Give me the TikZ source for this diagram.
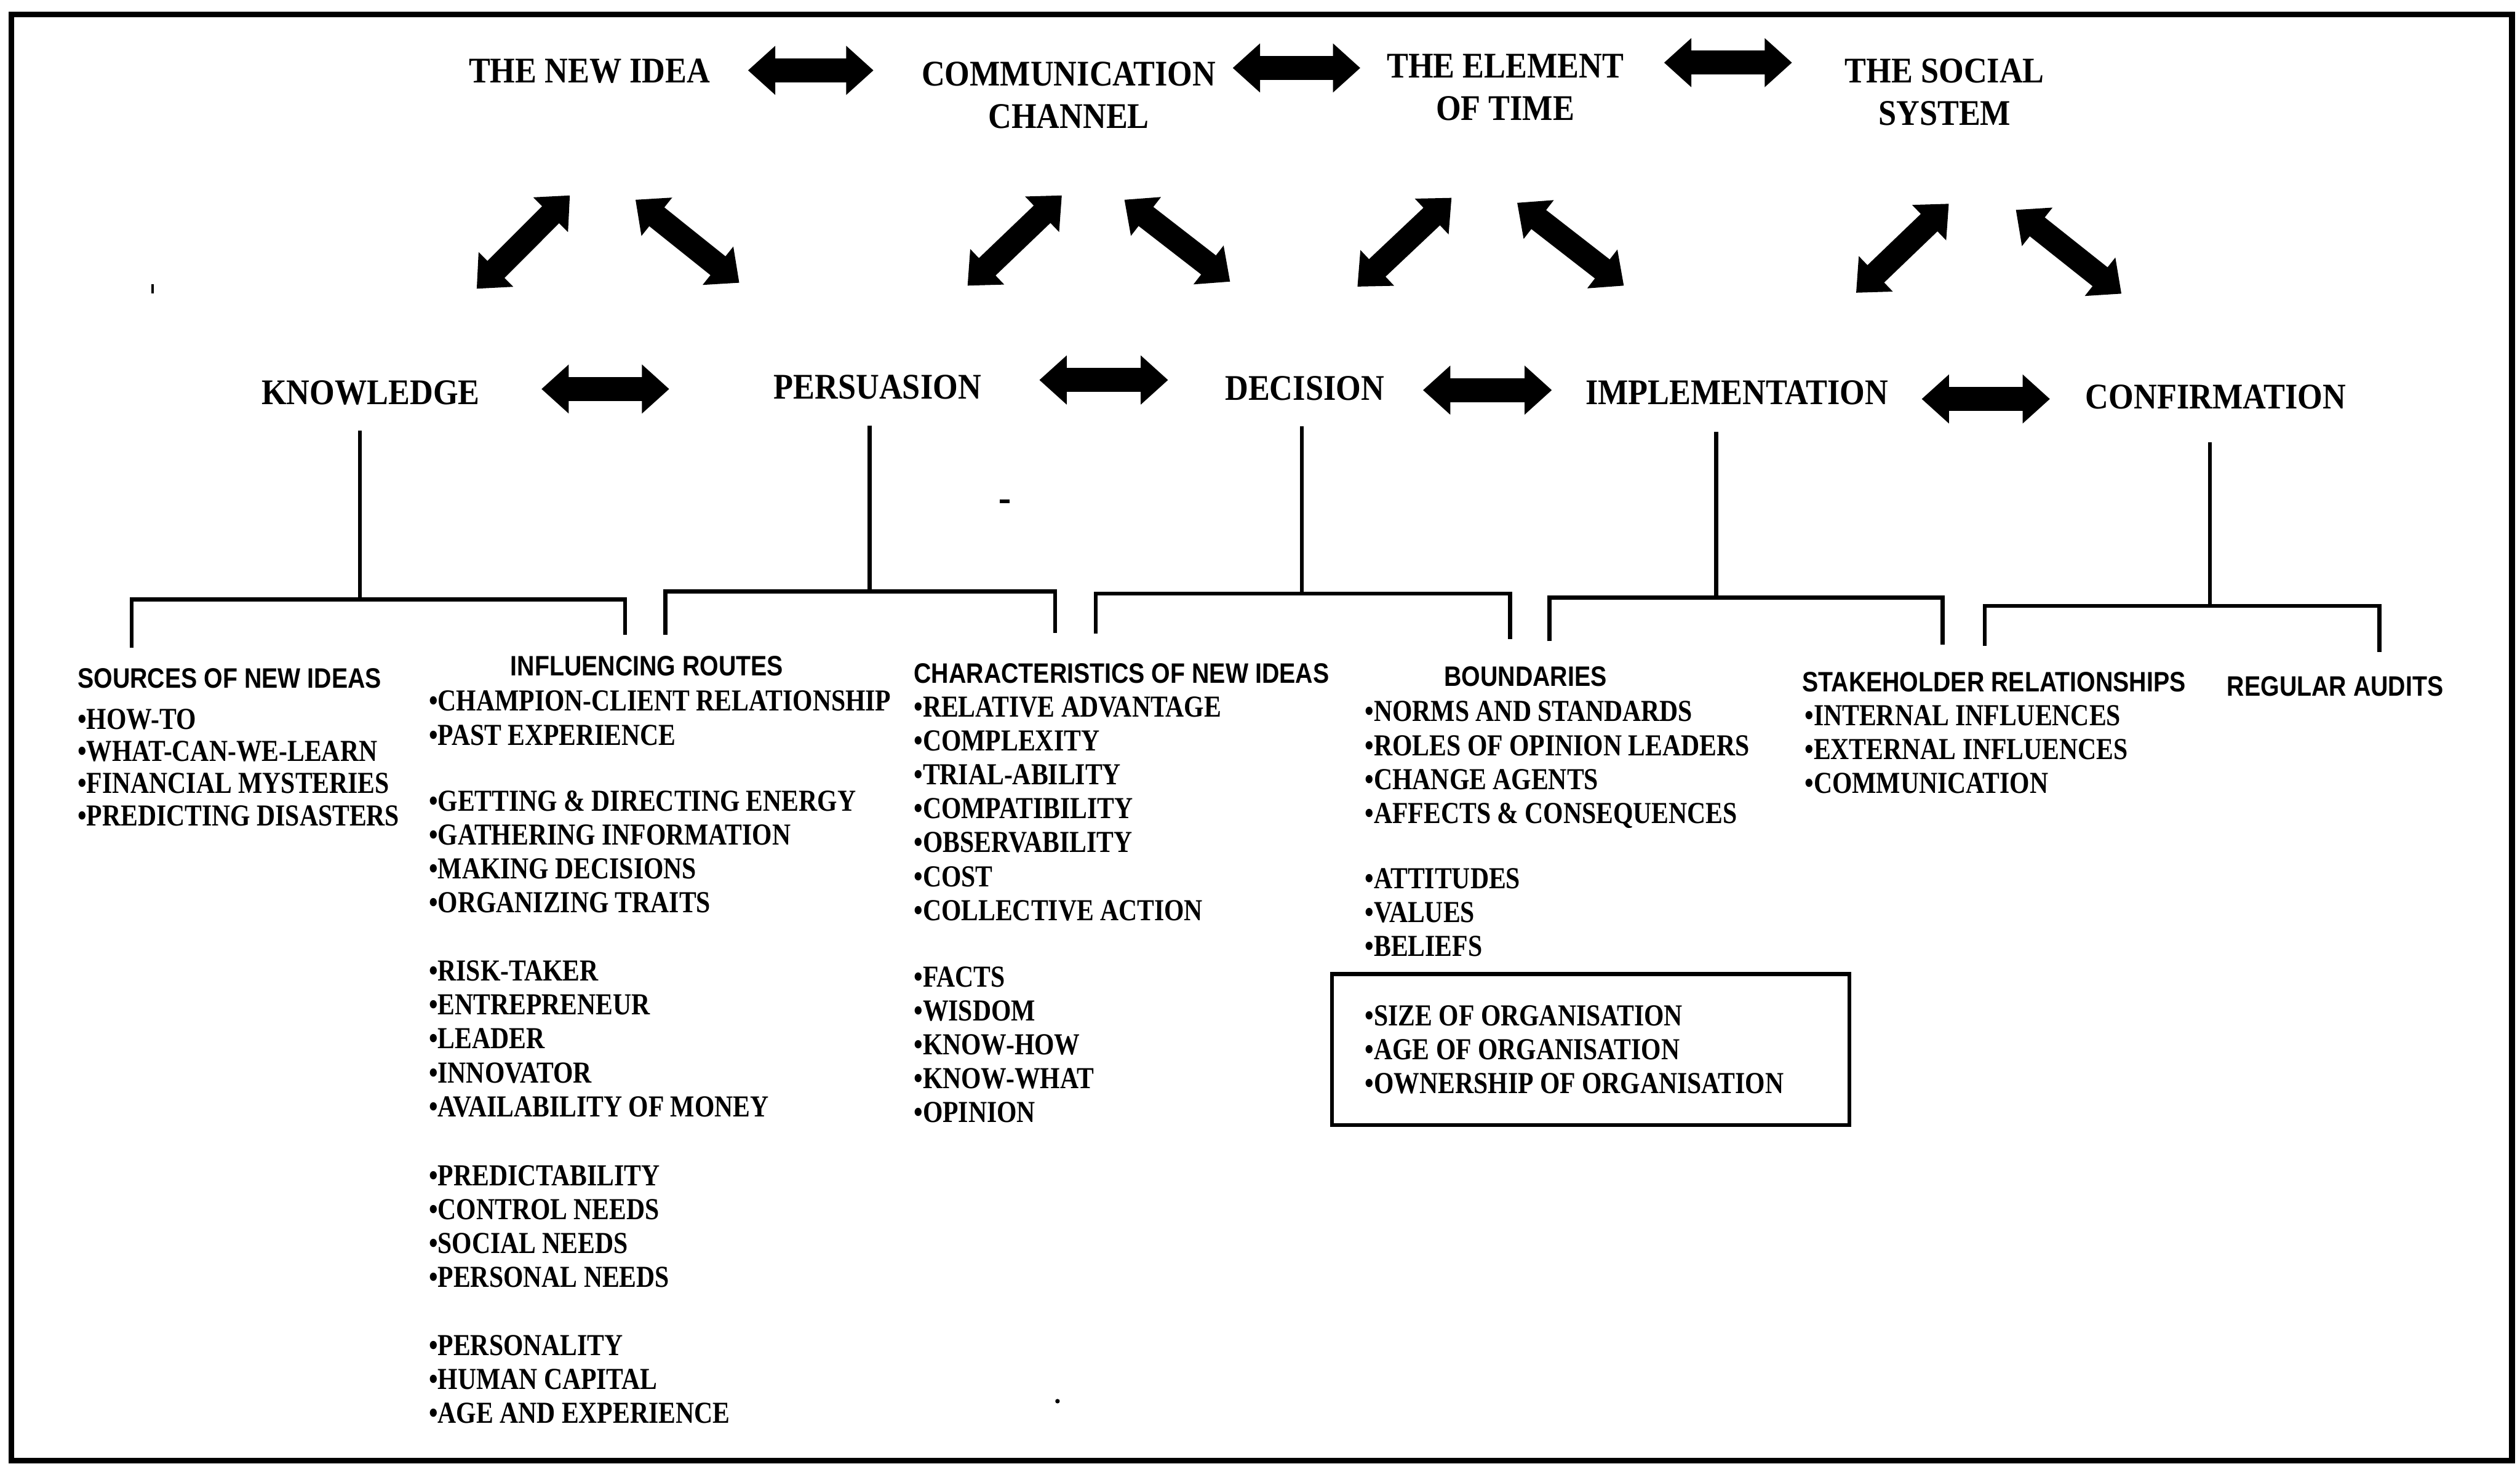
\documentclass[tikz,border=0pt]{standalone}
\usepackage{fontspec}
\setmainfont{Liberation Serif}
\newfontfamily\stagefont{Liberation Serif}[FakeStretch=0.89]
\newfontfamily\itemfont{Liberation Serif}[FakeStretch=0.84]
\newfontfamily\headfont{Liberation Sans}[FakeStretch=0.86]
\usetikzlibrary{arrows.meta}

\begin{document}
\begin{tikzpicture}[x=0.02cm,y=-0.02cm,
  outline/.style={line width=0.07cm},
  conn/.style={line width=0.05cm},
  blk/.style={line width=0.3cm,
    {Triangle[length=0.34cm,width=0.59cm]}-{Triangle[length=0.34cm,width=0.59cm]}},
  stage/.style={inner sep=0pt, align=center,
    font=\stagefont\bfseries\fontsize{12.8pt}{15.1pt}\selectfont},
  head/.style={inner sep=0pt,
    font=\headfont\bfseries\fontsize{9.96pt}{12pt}\selectfont},
  items/.style={inner sep=0pt, anchor=north west, align=left,
    font=\itemfont\bfseries\fontsize{10.81pt}{12.0pt}\selectfont},
  orgbox/.style={draw, line width=0.05cm, inner sep=0pt, anchor=north west,
    minimum width=6.44cm, minimum height=1.88cm}
]
\useasboundingbox (0,0) rectangle (1568,911);

% outer frame
\draw[outline] (7,9) rectangle (1563,909);

% elements of diffusion (top row)
\node[stage] (idea) at (366.8,44.1) {THE NEW IDEA};
\node[stage] (comm) at (665,59.4) {COMMUNICATION\\CHANNEL};
\node[stage] (time) at (936.6,54.5) {THE ELEMENT\\OF TIME};
\node[stage] (soc)  at (1210,57.5) {THE SOCIAL\\SYSTEM};

% stages of the innovation-decision process
\node[stage] (know) at (230.6,244.6) {KNOWLEDGE};
\node[stage] (pers) at (546,241) {PERSUASION};
\node[stage] (deci) at (811.8,241.6) {DECISION};
\node[stage] (impl) at (1080.7,244.4) {IMPLEMENTATION};
\node[stage] (conf) at (1378.7,247.2) {CONFIRMATION};

% block arrow end points
\coordinate (a1w) at (465.4,43.8);  \coordinate (a1e) at (543.5,43.8);
\coordinate (a2w) at (767,42.3);    \coordinate (a2e) at (846.4,42.3);
\coordinate (a3w) at (1035.4,39);   \coordinate (a3e) at (1115,39);
\coordinate (b1w) at (336.9,242.1); \coordinate (b1e) at (416.4,242.1);
\coordinate (b2w) at (646.7,236.5); \coordinate (b2e) at (726.8,236.5);
\coordinate (b3w) at (885.4,242.8); \coordinate (b3e) at (965.6,242.8);
\coordinate (b4w) at (1195.7,248.3);\coordinate (b4e) at (1275.5,248.3);
\coordinate (d1a) at (354.6,121.6); \coordinate (d1b) at (296.6,179.7);
\coordinate (d2a) at (395.4,124.3); \coordinate (d2b) at (460,176);
\coordinate (d3a) at (660.7,121.6); \coordinate (d3b) at (602,177.8);
\coordinate (d4a) at (699.6,124.3); \coordinate (d4b) at (765.4,175.3);
\coordinate (d5a) at (903.2,123.1); \coordinate (d5b) at (844.6,178.4);
\coordinate (d6a) at (944,126.2);   \coordinate (d6b) at (1010.4,177.8);
\coordinate (d7a) at (1212.6,126.8);\coordinate (d7b) at (1154.9,182.2);
\coordinate (d8a) at (1254.3,130.6);\coordinate (d8b) at (1320,182.8);

\foreach \p in {a1,a2,a3,b1,b2,b3,b4}
  \draw[blk] (\p w) -- (\p e);
\foreach \p in {d1,d2,d3,d4,d5,d6,d7,d8}
  \draw[blk] (\p a) -- (\p b);

% stems and brackets below each stage
\coordinate (kS) at (224,268);    \coordinate (kB) at (224,373);
\coordinate (kL) at (82,403);     \coordinate (kR) at (389,395);
\coordinate (pS) at (541,264.8);  \coordinate (pB) at (541,368);
\coordinate (pL) at (414,395);    \coordinate (pR) at (656.5,394);
\coordinate (dS) at (810,265.3);  \coordinate (dB) at (810,369.5);
\coordinate (dL) at (681.8,394.4);\coordinate (dR) at (939.5,397.8);
\coordinate (iS) at (1067.8,268.8);\coordinate (iB) at (1067.8,372);
\coordinate (iL) at (964,399);    \coordinate (iR) at (1208.7,401);
\coordinate (cS) at (1375,275.2); \coordinate (cB) at (1375,377);
\coordinate (cL) at (1235,402);   \coordinate (cR) at (1480.6,405.6);

\foreach \s in {k,p,d,i,c}{
  \draw[conn] (\s S) -- (\s B);
  \draw[conn] (\s L) -- (\s L |- \s B) -- (\s R |- \s B) -- (\s R);
}

% column headings
\node[head, anchor=west] (srcH) at (48,422) {SOURCES OF NEW IDEAS};
\node[head] (infH) at (402.5,414.5) {INFLUENCING ROUTES};
\node[head, anchor=west] (chrH) at (568.3,419) {CHARACTERISTICS OF NEW IDEAS};
\node[head] (bndH) at (949.2,421) {BOUNDARIES};
\node[head, anchor=west] (stkH) at (1121,424.5) {STAKEHOLDER RELATIONSHIPS};
\node[head, anchor=west] (audH) at (1385.4,427.3) {REGULAR AUDITS};

% knowledge
\node[items, font=\itemfont\bfseries\fontsize{10.81pt}{11.4pt}\selectfont] (src) at (48,440.8)
  {•HOW-TO\\•WHAT-CAN-WE-LEARN\\•FINANCIAL MYSTERIES\\•PREDICTING DISASTERS};

% persuasion
\node[items] (inf1) at (266.5,429.6)
  {•CHAMPION-CLIENT RELATIONSHIP\\•PAST EXPERIENCE};
\node[items] (inf2) at (266.5,491.8)
  {•GETTING \& DIRECTING ENERGY\\•GATHERING INFORMATION\\•MAKING DECISIONS\\•ORGANIZING TRAITS};
\node[items] (inf3) at (266.5,597.6)
  {•RISK-TAKER\\•ENTREPRENEUR\\•LEADER\\•INNOVATOR\\•AVAILABILITY OF MONEY};
\node[items] (inf4) at (266.5,724.8)
  {•PREDICTABILITY\\•CONTROL NEEDS\\•SOCIAL NEEDS\\•PERSONAL NEEDS};
\node[items] (inf5) at (266.5,830.5)
  {•PERSONALITY\\•HUMAN CAPITAL\\•AGE AND EXPERIENCE};

% decision
\node[items] (chr1) at (568.3,433.3)
  {•RELATIVE ADVANTAGE\\•COMPLEXITY\\•TRIAL-ABILITY\\•COMPATIBILITY\\•OBSERVABILITY\\•COST\\•COLLECTIVE ACTION};
\node[items] (chr2) at (568.3,601.2)
  {•FACTS\\•WISDOM\\•KNOW-HOW\\•KNOW-WHAT\\•OPINION};

% implementation
\node[items] (bnd1) at (849,436.1)
  {•NORMS AND STANDARDS\\•ROLES OF OPINION LEADERS\\•CHANGE AGENTS\\•AFFECTS \& CONSEQUENCES};
\node[items] (bnd2) at (849,540.1)
  {•ATTITUDES\\•VALUES\\•BELIEFS};
\node[orgbox] (org) at (827.6,605) {};
\node[items] (orgT) at (849,625.5)
  {•SIZE OF ORGANISATION\\•AGE OF ORGANISATION\\•OWNERSHIP OF ORGANISATION};

% confirmation
\node[items] (stk) at (1122.6,438.5)
  {•INTERNAL INFLUENCES\\•EXTERNAL INFLUENCES\\•COMMUNICATION};

% small specks
\fill (94,177) rectangle (95.6,182.5);
\fill (622,311) rectangle (628,313.2);
\fill (658,872) circle (0.028cm);
\end{tikzpicture}
\end{document}
